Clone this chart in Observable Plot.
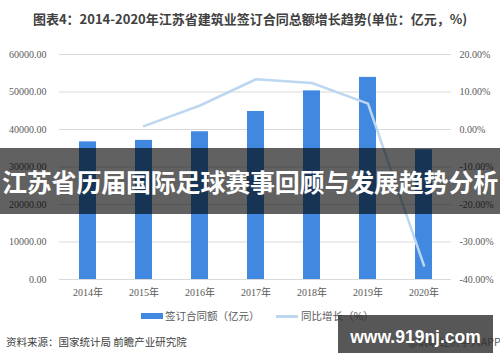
<!DOCTYPE html>
<html>
<head>
<meta charset="utf-8">
<script src="https://cdn.jsdelivr.net/npm/d3@7"></script>
<script src="https://cdn.jsdelivr.net/npm/@observablehq/plot@0.6"></script>
<style>
  html, body { margin: 0; padding: 0; background: #fff; }
  #wrap { position: relative; width: 500px; height: 362px; overflow: hidden; background: #fff; font-family: "Noto Sans CJK SC", "Noto Sans", sans-serif; }
  .abs { position: absolute; white-space: nowrap; }
  #title { top: 10px; left: 0; width: 500px; text-align: center; font-weight: bold; font-size: 13px; line-height: 17px; color: #404040; }
  #chart { top: 0; left: 0; }
  .leg { font-size: 10.5px; line-height: 14px; color: #595959; }
  #source { left: 6px; top: 334px; font-size: 10.5px; line-height: 16px; color: #404040; }
  #app { left: 408px; top: 334px; font-size: 10.5px; line-height: 16px; color: #595959; }
  #banner { left: 0; top: 148px; width: 500px; height: 66px; background: rgba(0,0,0,0.62); display: flex; align-items: center; justify-content: center; color: #fff; font-weight: bold; font-size: 25px; letter-spacing: -0.2px; }
  #badge { left: 338px; top: 315px; width: 155px; height: 38px; background: rgba(45,45,45,0.8); color: #fff; font-family: "Liberation Sans", Arial, sans-serif; font-weight: bold; font-size: 17.5px; line-height: 38px; text-align: center; padding-top: 3px; box-sizing: border-box; }
</style>
</head>
<body>
<div id="wrap">
  <div id="chart" class="abs"></div>
  <div id="title" class="abs"></div>
  <div id="legend"></div>
  <div id="source" class="abs"></div>
  <div id="app" class="abs"></div>
  <div id="banner" class="abs"></div>
  <div id="badge" class="abs"></div>
</div>
<script>
// ---- data ----
const years = ["2014", "2015", "2016", "2017", "2018", "2019", "2020"];
const contractValue = [36700, 37100, 39400, 44800, 50300, 53900, 34600]; // 亿元
const growthYears = ["2015", "2016", "2017", "2018", "2019", "2020"];
const growthRate = [0.9, 6.4, 13.4, 12.4, 6.9, -36.3]; // %
const leftTicks = [0, 10000, 20000, 30000, 40000, 50000, 60000];
const rightTicks = [-40, -30, -20, -10, 0, 10, 20];
const seriesNames = ["签订合同额（亿元）", "同比增长（%）"];
const titleText = "图表4：2014-2020年江苏省建筑业签订合同总额增长趋势(单位：亿元，%)";
const sourceText = "资料来源：国家统计局 前瞻产业研究院";
const appText = "@前瞻经济学人APP";
const bannerText = "江苏省历届国际足球赛事回顾与发展趋势分析";
const badgeText = "www.919nj.com";

// right axis (%) mapped onto left scale: [-40,20] -> [0,60000]
const toLeft = p => (p + 40) * 1000;

const bars = years.map((y, i) => ({year: y, value: contractValue[i]}));
const line = growthYears.map((y, i) => ({year: y, v: toLeft(growthRate[i])}));

const barColor = "#4189e0";
const lineColor = "#bdd7f0";

const plot = Plot.plot({
  width: 500,
  height: 300,
  marginTop: 54,
  marginBottom: 21,
  marginLeft: 59,
  marginRight: 49,
  style: {background: "transparent", fontFamily: "'Liberation Serif', 'Noto Sans CJK SC', serif", fontSize: "10px", color: "#595959"},
  x: {domain: years, paddingInner: 0.7, paddingOuter: 0.35, label: null},
  y: {domain: [0, 60000], label: null},
  marks: [
    Plot.gridY(leftTicks, {stroke: "#d9d9d9", strokeOpacity: 1}),
    Plot.barY(bars, {x: "year", y: "value", fill: barColor}),
    Plot.line(line, {x: "year", y: "v", stroke: lineColor, strokeWidth: 2.5}),
    Plot.axisY(leftTicks, {anchor: "left", tickSize: 0, tickPadding: 13, tickFormat: d => d.toFixed(2), label: null}),
    Plot.axisY(rightTicks.map(toLeft), {anchor: "right", tickSize: 0, tickPadding: 8, tickFormat: d => (d / 1000 - 40).toFixed(2) + "%", label: null}),
    Plot.axisX({tickSize: 0, tickPadding: 9, tickFormat: d => d + "年", label: null})
  ]
});
document.getElementById("chart").appendChild(plot);

document.getElementById("title").textContent = titleText;
document.getElementById("source").textContent = sourceText;
document.getElementById("app").textContent = appText;
document.getElementById("banner").textContent = bannerText;
document.getElementById("badge").textContent = badgeText;

// legend
const legend = document.getElementById("legend");
function add(html) { legend.insertAdjacentHTML("beforeend", html); }
add(`<div class="abs" style="left:141px;top:313px;width:22px;height:6px;background:${barColor}"></div>`);
add(`<div class="abs leg" style="left:165px;top:309px">${seriesNames[0]}</div>`);
add(`<div class="abs" style="left:276px;top:315px;width:22px;height:2.5px;background:${lineColor}"></div>`);
add(`<div class="abs leg" style="left:301px;top:309px">${seriesNames[1]}</div>`);
</script>
</body>
</html>
